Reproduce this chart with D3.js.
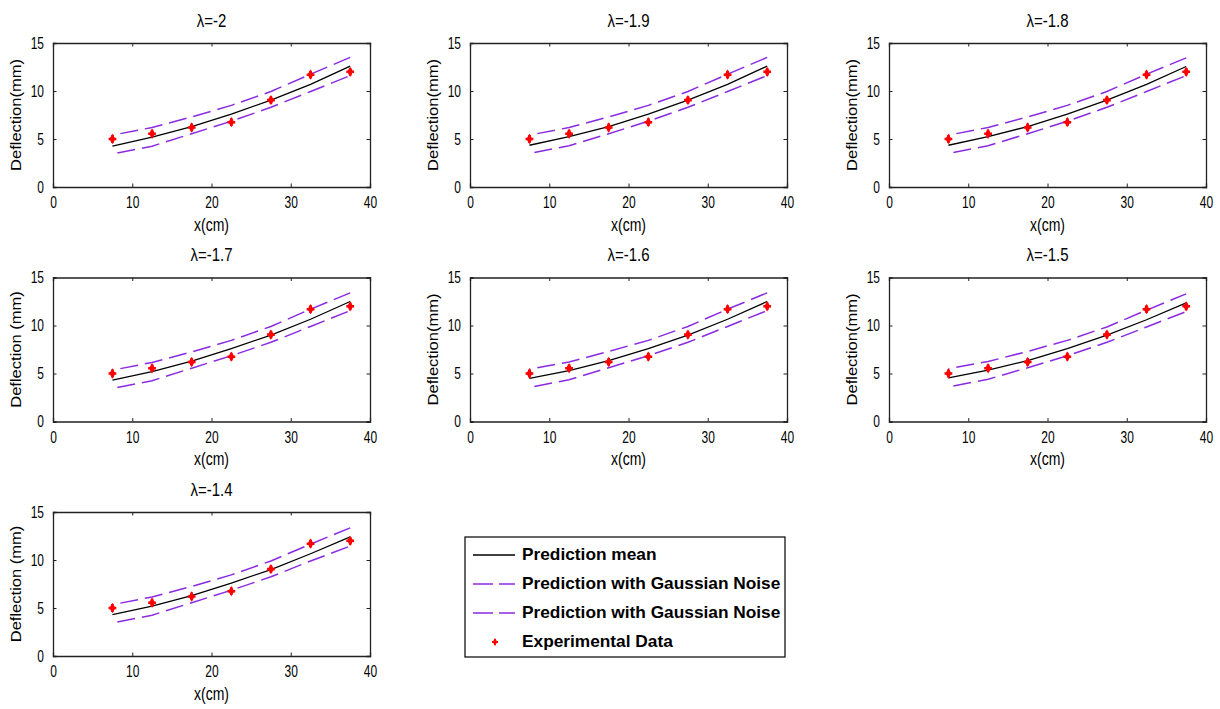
<!DOCTYPE html>
<html>
<head>
<meta charset="utf-8">
<script src="https://cdn.jsdelivr.net/npm/d3@7"></script>
<style>
  body { margin: 0; background: #fff; }
  svg text { font-family: "Liberation Sans", Arial, sans-serif; fill: #000; }
</style>
</head>
<body>
<svg id="chart" width="1220" height="709"></svg>
<script>
// ── Data ──
const lambdas = ["-2", "-1.9", "-1.8", "-1.7", "-1.6", "-1.5", "-1.4"];
const yLabels = ["Deflection(mm)", "Deflection(mm)", "Deflection(mm)",
                 "Deflection (mm)", "Deflection(mm)", "Deflection(mm)", "Deflection (mm)"];

const xPts   = [7.5, 12.5, 17.5, 22.5, 27.5, 32.5, 37.5];
const expY   = [5.0, 5.55, 6.2, 6.75, 9.05, 11.7, 12.0];

// prediction mean per lambda
const meanY = [
  [4.25, 5.2, 6.3, 7.6, 9.05, 10.7, 12.6],
  [4.35, 5.25, 6.3, 7.6, 9.05, 10.7, 12.6],
  [4.35, 5.25, 6.3, 7.6, 9.05, 10.7, 12.55],
  [4.3, 5.2, 6.3, 7.6, 9.0, 10.65, 12.5],
  [4.5, 5.3, 6.35, 7.6, 9.0, 10.65, 12.5],
  [4.55, 5.35, 6.35, 7.6, 9.0, 10.6, 12.35],
  [4.3, 5.2, 6.3, 7.6, 9.0, 10.65, 12.4]
];
// prediction with gaussian noise (upper / lower)
const upperY = [
  [5.4, 6.2, 7.3, 8.5, 9.95, 11.75, 13.5],
  [5.4, 6.2, 7.3, 8.5, 9.95, 11.75, 13.5],
  [5.4, 6.2, 7.3, 8.5, 9.95, 11.75, 13.45],
  [5.35, 6.15, 7.25, 8.45, 9.9, 11.7, 13.4],
  [5.45, 6.2, 7.3, 8.45, 9.9, 11.7, 13.4],
  [5.5, 6.25, 7.3, 8.45, 9.85, 11.6, 13.3],
  [5.35, 6.15, 7.25, 8.45, 9.9, 11.65, 13.35]
];
const lowerY = [
  [3.45, 4.25, 5.55, 6.85, 8.3, 9.95, 11.6],
  [3.5, 4.3, 5.55, 6.85, 8.3, 9.95, 11.6],
  [3.5, 4.3, 5.55, 6.85, 8.3, 9.95, 11.6],
  [3.45, 4.25, 5.55, 6.85, 8.25, 9.9, 11.55],
  [3.55, 4.35, 5.6, 6.85, 8.25, 9.9, 11.55],
  [3.6, 4.4, 5.6, 6.85, 8.25, 9.85, 11.45],
  [3.45, 4.25, 5.55, 6.85, 8.25, 9.9, 11.45]
];

const xTicks = [0, 10, 20, 30, 40];
const yTicks = [0, 5, 10, 15];
const legendLabels = ["Prediction mean", "Prediction with Gaussian Noise",
                      "Prediction with Gaussian Noise", "Experimental Data"];

// ── Layout ──
const colLeft = [53, 470, 889];
const rowTop  = [43, 277.5, 512];
const plotW = 317, plotH = 144;
const PURPLE = "#8a2be2";
const K = 1.3; // the original figure text is stretched vertically

const svg = d3.select("#chart");

function marker(g, x, y, s) {
  g.append("path").attr("transform", `translate(${x},${y})`)
    .attr("d", d3.symbol(d3.symbolCross, s * 1.2)()).attr("fill", "red");
  g.append("path").attr("transform", `translate(${x},${y})`)
    .attr("d", d3.symbol(d3.symbolDiamond, s * 1.1)()).attr("fill", "red");
}

// move x/y into a transform so the glyphs can be stretched vertically
function stretch(sel, k) {
  sel.each(function() {
    const t = d3.select(this);
    const x = +t.attr("x") || 0, y = +t.attr("y") || 0;
    t.attr("x", 0).attr("y", 0).attr("transform", `translate(${x},${y}) scale(1,${k})`);
  });
}

lambdas.forEach((lam, i) => {
  const ox = colLeft[i % 3], oy = rowTop[Math.floor(i / 3)];
  const g = svg.append("g").attr("transform", `translate(${ox},${oy})`);

  const x = d3.scaleLinear().domain([0, 40]).range([0, plotW]);
  const y = d3.scaleLinear().domain([0, 15]).range([plotH, 0]);

  // axes, ticks pointing inwards like MATLAB
  const fmt = d3.format("d");
  g.append("g").attr("transform", `translate(0,${plotH})`)
    .call(d3.axisBottom(x).tickValues(xTicks).tickSize(-3.5).tickPadding(10).tickFormat(fmt))
    .call(a => a.selectAll("text").attr("font-size", 12).call(stretch, K));
  g.append("g")
    .call(d3.axisTop(x).tickValues(xTicks).tickSize(-3.5).tickFormat(""));
  g.append("g")
    .call(d3.axisLeft(y).tickValues(yTicks).tickSize(-3.5).tickPadding(9).tickFormat(fmt))
    .call(a => a.selectAll("text").attr("font-size", 12).call(stretch, K));
  g.append("g").attr("transform", `translate(${plotW},0)`)
    .call(d3.axisRight(y).tickValues(yTicks).tickSize(-3.5).tickFormat(""));
  g.selectAll(".domain").attr("stroke", "#222").attr("stroke-width", 1.3);
  g.selectAll(".tick line").attr("stroke", "#222");
  g.selectAll(".tick text").attr("font-family", "Liberation Sans, Arial, sans-serif").attr("fill", "#000");

  const line = d3.line().x((d, k) => x(xPts[k])).y(d => y(d));

  g.append("path").datum(upperY[i]).attr("d", line)
    .attr("fill", "none").attr("stroke", PURPLE).attr("stroke-width", 1.5)
    .attr("stroke-dasharray", "18,7").attr("stroke-dashoffset", -8);
  g.append("path").datum(lowerY[i]).attr("d", line)
    .attr("fill", "none").attr("stroke", PURPLE).attr("stroke-width", 1.5)
    .attr("stroke-dasharray", "18,7").attr("stroke-dashoffset", 20);
  g.append("path").datum(meanY[i]).attr("d", line)
    .attr("fill", "none").attr("stroke", "#000").attr("stroke-width", 1.3);

  expY.forEach((v, k) => marker(g, x(xPts[k]), y(v), 28));

  // titles and labels
  g.append("text").attr("transform", `translate(${plotW / 2},-21) scale(1,1.25)`)
    .attr("text-anchor", "middle").attr("dominant-baseline", "middle")
    .attr("font-size", 15).text("λ=" + lam);
  g.append("text").attr("transform", `translate(${plotW / 2},${plotH + 39}) scale(1,${K})`)
    .attr("text-anchor", "middle").attr("dominant-baseline", "middle")
    .attr("font-size", 14).text("x(cm)");
  g.append("text").attr("transform", `translate(-36,${plotH / 2}) rotate(-90) scale(1.18,1)`)
    .attr("text-anchor", "middle").attr("dominant-baseline", "middle")
    .attr("font-size", 14).text(yLabels[i]);
});

// ── Legend ──
const lg = svg.append("g").attr("transform", "translate(465,537)");
lg.append("rect").attr("width", 320).attr("height", 120)
  .attr("fill", "#fff").attr("stroke", "#000").attr("stroke-width", 1.2);
legendLabels.forEach((lab, k) => {
  const ly = 18 + k * 29;
  if (k === 0) {
    lg.append("line").attr("x1", 8).attr("x2", 50).attr("y1", ly).attr("y2", ly)
      .attr("stroke", "#000").attr("stroke-width", 1.3);
  } else if (k < 3) {
    lg.append("line").attr("x1", 8).attr("x2", 50).attr("y1", ly).attr("y2", ly)
      .attr("stroke", PURPLE).attr("stroke-width", 1.5).attr("stroke-dasharray", "20,6");
  } else {
    marker(lg, 30, ly, 16);
  }
  lg.append("text").attr("x", 57).attr("y", ly).attr("dominant-baseline", "middle")
    .attr("font-size", 17.3).attr("font-weight", "bold").text(lab);
});
</script>
</body>
</html>
